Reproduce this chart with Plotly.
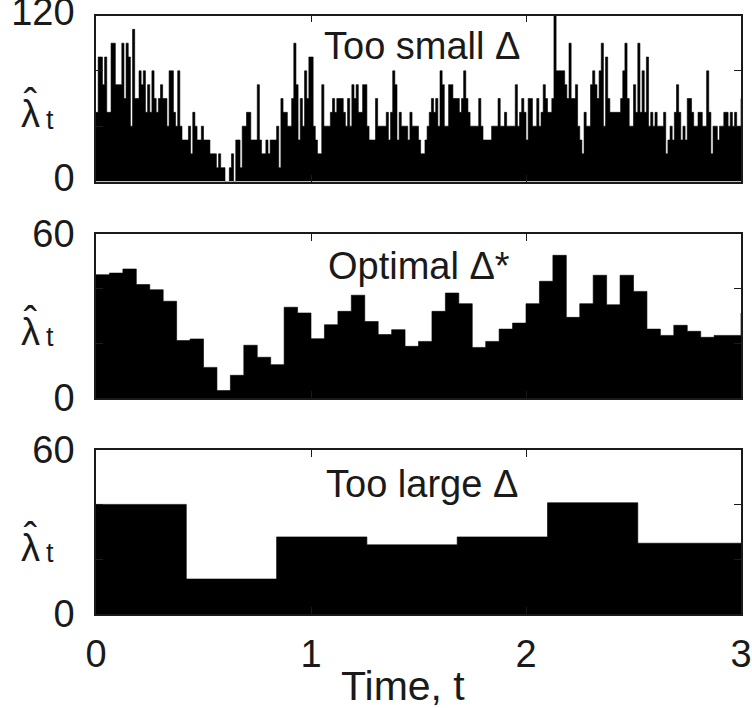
import plotly.graph_objects as go

# ---- data -------------------------------------------------------------
T_END = 3.0

# too small bin width: 300 bins of 0.01 s
SMALL_DT = 0.01
small_rate = [
    50, 90, 90, 70, 90, 50, 50, 100, 100, 70,
    70, 70, 100, 60, 100, 90, 40, 110, 60, 60,
    80, 70, 80, 50, 70, 50, 80, 60, 50, 60,
    70, 60, 60, 40, 80, 80, 50, 40, 80, 40,
    30, 30, 30, 40, 20, 50, 40, 30, 30, 40,
    30, 30, 30, 20, 20, 20, 10, 20, 10, 10,
    0, 0, 10, 20, 0, 30, 30, 10, 40, 40,
    50, 50, 30, 30, 30, 70, 30, 20, 20, 30,
    20, 30, 30, 30, 40, 10, 60, 50, 50, 40,
    40, 60, 100, 70, 30, 60, 40, 80, 60, 90,
    90, 40, 30, 20, 20, 70, 40, 40, 40, 50,
    60, 50, 60, 60, 60, 50, 40, 60, 40, 70,
    60, 70, 50, 50, 70, 70, 40, 30, 30, 30,
    60, 40, 40, 40, 40, 50, 30, 50, 80, 70,
    30, 50, 40, 40, 40, 30, 50, 40, 40, 40,
    30, 20, 20, 30, 40, 50, 60, 50, 60, 40,
    80, 70, 40, 40, 70, 70, 60, 60, 60, 50,
    60, 80, 60, 50, 40, 40, 40, 40, 60, 40,
    30, 30, 30, 30, 40, 40, 40, 60, 40, 40,
    50, 40, 40, 40, 40, 70, 40, 50, 60, 50,
    30, 60, 60, 40, 40, 60, 40, 50, 70, 60,
    50, 50, 60, 130, 80, 80, 80, 80, 70, 60,
    100, 60, 60, 70, 40, 30, 20, 50, 40, 40,
    70, 80, 70, 60, 80, 100, 40, 90, 60, 50,
    50, 50, 50, 50, 60, 80, 100, 60, 40, 40,
    70, 50, 100, 50, 80, 50, 90, 40, 50, 40,
    50, 40, 40, 40, 50, 20, 30, 40, 30, 50,
    70, 50, 30, 40, 30, 60, 60, 50, 40, 40,
    50, 50, 40, 40, 80, 50, 20, 40, 40, 30,
    40, 40, 50, 50, 40, 50, 40, 50, 40, 60,
]

# optimal bin width: 48 bins of 0.0625 s
OPT_DT = 0.0625
optimal_rate = [
    45.1, 45.7, 47.2, 41.5, 39.6, 35.4, 21.0, 21.6, 11.2, 2.7,
    8.3, 19.3, 14.9, 12.2, 33.2, 31.1, 21.7, 26.8, 31.7, 37.6,
    28.0, 23.2, 25.0, 18.9, 20.7, 31.7, 38.4, 34.5, 18.5, 20.7,
    25.2, 27.4, 34.5, 42.7, 52.2, 29.5, 34.5, 44.9, 34.1, 44.9,
    39.0, 25.2, 22.9, 26.6, 24.4, 22.2, 22.9, 31.1,
]

# too large bin width
large_edges = [0.0, 0.42, 0.84, 1.26, 1.68, 2.10, 2.52, 3.0]
large_rate = [40.1, 12.8, 28.2, 25.3, 28.2, 40.7, 25.9]

panel_titles = ["Too small \u0394", "Optimal \u0394*", "Too large \u0394"]
y_max = [120, 60, 60]
y_ticks = [[0, 40, 80, 120], [0, 20, 40, 60], [0, 20, 40, 60]]
x_ticks = [0, 1, 2, 3]
x_title = "Time, t"
# estimated rate: lambda with a hat, subscript t
rate_symbol = ('<span style="font-size:40px">\u02c6</span><br>'
               '<span style="font-size:38px">\u03bb</span>')
rate_index = "t"

# ---- geometry ---------------------------------------------------------
W, H = 752, 708
ML, MR, MT, MB = 96, 11, 15, 94
PW, PH = W - ML - MR, H - MT - MB
FONT = "Liberation Sans, Arial, sans-serif"
INK = "#1a1a1a"

# panel extents in pixels (top, bottom)
panel_px = [(15.5, 181.5), (234, 398), (450, 614)]


def px_x(px):
    return (px - ML) / PW


def px_y(py):
    return (H - MB - py) / PH


def edges_from_dt(dt, n):
    return [min(i * dt, T_END) for i in range(n)] + [T_END]


def step_fill(edges, vals, idx):
    suffix = "" if idx == 1 else str(idx)
    return go.Scatter(
        x=edges,
        y=list(vals) + [vals[-1]],
        mode="lines",
        line=dict(shape="hv", width=0.6, color="black"),
        fill="tozeroy",
        fillcolor="black",
        hoverinfo="skip",
        showlegend=False,
        xaxis="x" + suffix,
        yaxis="y" + suffix,
    )


fig = go.Figure()
fig.add_trace(step_fill(edges_from_dt(SMALL_DT, len(small_rate) - 1), small_rate, 1))
fig.add_trace(step_fill(edges_from_dt(OPT_DT, len(optimal_rate) - 1), optimal_rate, 2))
fig.add_trace(step_fill(large_edges, large_rate, 3))

layout = dict(
    width=W,
    height=H,
    margin=dict(l=ML, r=MR, t=MT, b=MB, autoexpand=False),
    paper_bgcolor="white",
    plot_bgcolor="white",
    font=dict(family=FONT, size=38, color=INK),
    showlegend=False,
)

for i in range(3):
    suffix = "" if i == 0 else str(i + 1)
    top_px, bot_px = panel_px[i]
    dom = [px_y(bot_px), px_y(top_px)]
    ticks = y_ticks[i]
    common = dict(
        automargin=False,
        ticks="inside",
        ticklen=7,
        tickwidth=1.2,
        tickcolor=INK,
        showline=True,
        linecolor=INK,
        linewidth=1.5,
        mirror="ticks",
        showgrid=False,
        zeroline=False,
        tickfont=dict(size=38, color=INK),
        ticklabeloverflow="allow",
    )
    layout["xaxis" + suffix] = dict(
        domain=[0, 1],
        range=[0, T_END],
        anchor="y" + suffix,
        tickvals=x_ticks,
        ticktext=[str(v) for v in x_ticks],
        showticklabels=(i == 2),
        ticklabelstandoff=6,
        **common,
    )
    layout["yaxis" + suffix] = dict(
        domain=dom,
        range=[0, y_max[i]],
        anchor="x" + suffix,
        tickvals=ticks,
        ticktext=[str(ticks[0])] + [""] * (len(ticks) - 2) + [str(ticks[-1])],
        ticklabelstandoff=12,
        ticklabelshift=(-4 if i == 0 else 0),
        **common,
    )

fig.update_layout(**layout)

# panel titles and rate labels
title_px = [(422, 46), (419, 266), (422, 484)]
for i in range(3):
    top_px, bot_px = panel_px[i]
    tx, ty = title_px[i]
    fig.add_annotation(
        text=panel_titles[i], xref="paper", yref="paper",
        x=px_x(tx), y=px_y(ty), xanchor="center", yanchor="middle",
        showarrow=False, font=dict(size=38, color=INK),
    )
    baseline = (top_px + bot_px) / 2 + 30
    fig.add_annotation(
        text=rate_symbol, xref="paper", yref="paper",
        x=px_x(30), y=px_y(baseline + 9), xanchor="center", yanchor="bottom",
        align="center", showarrow=False, font=dict(size=8, color=INK),
    )
    fig.add_annotation(
        text=rate_index, xref="paper", yref="paper",
        x=px_x(44), y=px_y(baseline + 8), xanchor="left", yanchor="bottom",
        showarrow=False, font=dict(size=27, color=INK),
    )

fig.add_annotation(
    text=x_title, xref="paper", yref="paper",
    x=px_x(403), y=px_y(686), xanchor="center", yanchor="middle",
    showarrow=False, font=dict(size=41, color=INK),
)

fig.write_html("out.html")
